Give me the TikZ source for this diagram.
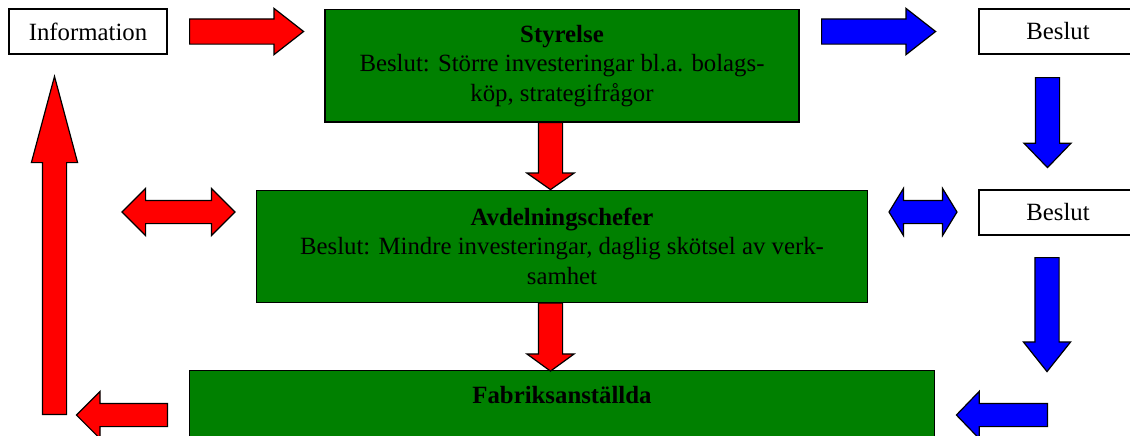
\documentclass[tikz,border=0pt]{standalone}
\usepackage{fontspec}
\setmainfont{Liberation Serif}
\usepackage{tikz}
\usetikzlibrary{shapes.arrows}

\definecolor{boardgreen}{HTML}{008000}

\begin{document}
\begin{tikzpicture}[x=0.5pt, y=-0.5pt,
  font=\fontsize{12.4}{14.75}\selectfont,
  box/.style={draw, line width=0.6pt, align=center, inner sep=0pt},
  whitebox/.style={box, fill=white, minimum width=79pt, minimum height=22.5pt},
  greenbox/.style={box, fill=boardgreen},
  arr/.style={single arrow, draw, line width=0.6pt, inner sep=0pt, anchor=tail},
  dblarr/.style={double arrow, draw, line width=0.6pt, inner sep=0pt}]
\useasboundingbox (0,0) rectangle (1130,435);
\clip (0,0) rectangle (1130,435);

% white boxes
\node[whitebox] (info) at (88,31.5) {Information};
\node[whitebox] (dec1) at (1058,31.5) {Beslut};
\node[whitebox] (dec2) at (1058,212.5) {Beslut};

% green boxes
\node[greenbox, minimum width=237pt, minimum height=56.25pt] (board) at (562,65.75)
  {\textbf{Styrelse}\\Beslut: Större investeringar bl.a. bolags-\\köp, strategifrågor};
\node[greenbox, minimum width=305.5pt, minimum height=56pt] (dept) at (562,246.25)
  {\textbf{Avdelningschefer}\\Beslut: Mindre investeringar, daglig skötsel av verk-\\samhet};
\node[greenbox, minimum width=372.5pt, anchor=north, inner ysep=8pt,
  text height=8.5pt, text depth=50pt] (staff) at (562,370) {\textbf{Fabriksanställda}};

% red arrows
\node[arr, fill=red, minimum height=57pt, inner ysep=6pt,
  single arrow head extend=5.25pt, single arrow tip angle=76] (infoin) at (189,31.5) {};
\node[arr, fill=red, rotate=-90, minimum height=33.5pt, inner ysep=5.75pt,
  single arrow head extend=5.75pt, single arrow tip angle=110] (boarddown) at (550.5,122) {};
\node[arr, fill=red, rotate=-90, minimum height=34pt, inner ysep=5.75pt,
  single arrow head extend=5.75pt, single arrow tip angle=108] (deptdown) at (550.5,302.5) {};
\node[arr, fill=red, rotate=180, minimum height=45.5pt, inner ysep=5.5pt,
  single arrow head extend=6pt, single arrow tip angle=90] (staffout) at (168,415) {};
\node[arr, fill=red, rotate=90, minimum height=169pt, inner ysep=5.75pt,
  single arrow head extend=5.5pt, single arrow tip angle=30] (feedback) at (54.5,415) {};
\node[dblarr, fill=red, minimum height=56.5pt, inner ysep=5.5pt,
  double arrow head extend=6pt, double arrow tip angle=90] (deptinfo) at (178.5,212) {};

% blue arrows
\node[arr, fill=blue, minimum height=57pt, inner ysep=6pt,
  single arrow head extend=5.25pt, single arrow tip angle=76] (boardout) at (821,31.5) {};
\node[arr, fill=blue, rotate=-90, minimum height=45pt, inner ysep=5.75pt,
  single arrow head extend=5.75pt, single arrow tip angle=88] (decdown) at (1047.5,77) {};
\node[arr, fill=blue, rotate=-90, minimum height=57pt, inner ysep=5.75pt,
  single arrow head extend=5.75pt, single arrow tip angle=77] (decdown2) at (1047,257) {};
\node[arr, fill=blue, rotate=180, minimum height=45.5pt, inner ysep=5.5pt,
  single arrow head extend=6pt, single arrow tip angle=92] (decleft) at (1048,415) {};
\node[dblarr, fill=blue, minimum height=34pt, inner ysep=5.5pt,
  double arrow head extend=6pt, double arrow tip angle=117] (deptdec) at (923,212) {};
\end{tikzpicture}
\end{document}
